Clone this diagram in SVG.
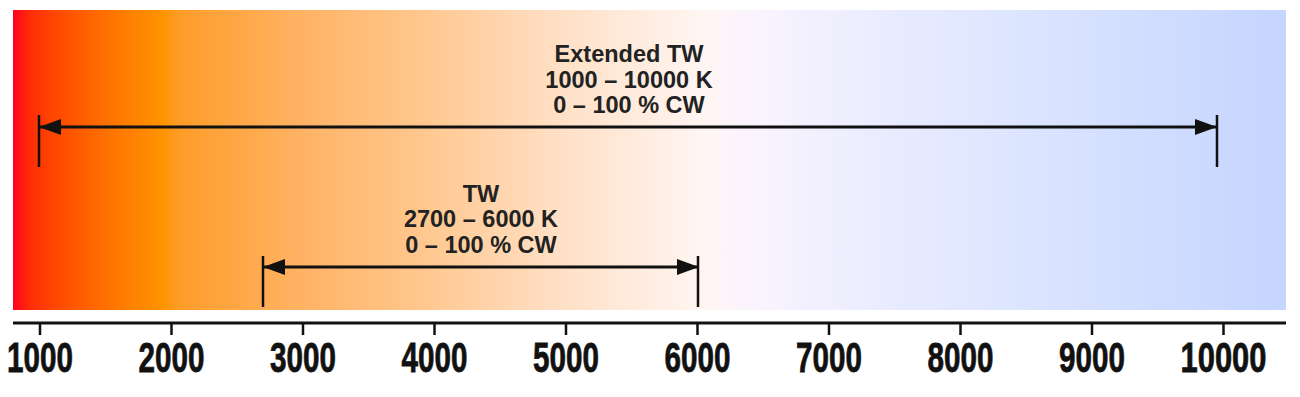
<svg xmlns="http://www.w3.org/2000/svg" width="1300" height="397" viewBox="0 0 1300 397">
  <defs>
    <linearGradient id="cct" x1="13" y1="0" x2="1286" y2="0" gradientUnits="userSpaceOnUse">
      <stop offset="0" stop-color="#ff0024"/>
      <stop offset="0.012" stop-color="#ff2a08"/>
      <stop offset="0.03" stop-color="#ff4400"/>
      <stop offset="0.07" stop-color="#ff6e00"/>
      <stop offset="0.118" stop-color="#ff9400"/>
      <stop offset="0.13" stop-color="#ff9c28"/>
      <stop offset="0.225" stop-color="#ffb264"/>
      <stop offset="0.33" stop-color="#ffc992"/>
      <stop offset="0.43" stop-color="#ffe0c6"/>
      <stop offset="0.54" stop-color="#fff5f1"/>
      <stop offset="0.575" stop-color="#fbf4fe"/>
      <stop offset="0.70" stop-color="#e7ebff"/>
      <stop offset="0.82" stop-color="#d9e3ff"/>
      <stop offset="1" stop-color="#c5d5ff"/>
    </linearGradient>
    <marker id="ah" markerWidth="22" markerHeight="16" refX="21" refY="8" orient="auto-start-reverse" markerUnits="userSpaceOnUse">
      <path d="M0,0 L22,8 L0,16 Z" fill="#111"/>
    </marker>
  </defs>
  <style>
    .lbl { font-family: "Liberation Sans", Arial, sans-serif; font-weight: bold; font-size: 23.5px; fill: #222; text-anchor: middle; }
    .ax { font-family: "Liberation Sans", Arial, sans-serif; font-weight: bold; font-size: 43px; fill: #111; text-anchor: middle; stroke: #111; stroke-width: 0.8; }
    .rng { stroke: #111; stroke-width: 3; fill: none; }
    .tick { stroke: #111; stroke-width: 2.5; }
  </style>
  <rect id="spectrum" x="13" y="10" width="1273" height="300" fill="url(#cct)"/>

  <g id="connectors">
    <line class="rng" x1="40" y1="127" x2="1216" y2="127" marker-start="url(#ah)" marker-end="url(#ah)"/>
    <line class="tick" x1="39" y1="115" x2="39" y2="167"/>
    <line class="tick" x1="1217" y1="115" x2="1217" y2="167"/>
    <line class="rng" x1="264" y1="267" x2="698" y2="267" marker-start="url(#ah)" marker-end="url(#ah)"/>
    <line class="tick" x1="263" y1="256" x2="263" y2="307"/>
    <line class="tick" x1="698" y1="256" x2="698" y2="307"/>
  </g>

  <g id="extended-tw">
    <text class="lbl" x="629" y="62">Extended TW</text>
    <text class="lbl" x="629" y="88">1000 – 10000 K</text>
    <text class="lbl" x="629" y="113">0 – 100 % CW</text>
  </g>

  <g id="tw">
    <text class="lbl" x="481" y="202">TW</text>
    <text class="lbl" x="481" y="227">2700 – 6000 K</text>
    <text class="lbl" x="481" y="253">0 – 100 % CW</text>
  </g>

  <g id="axis">
    <line x1="13" y1="323" x2="1286" y2="323" stroke="#111" stroke-width="3"/>
    <g class="tick">
      <line x1="40" y1="323" x2="40" y2="335"/>
      <line x1="171.5" y1="323" x2="171.5" y2="335"/>
      <line x1="303" y1="323" x2="303" y2="335"/>
      <line x1="434.5" y1="323" x2="434.5" y2="335"/>
      <line x1="566" y1="323" x2="566" y2="335"/>
      <line x1="697.5" y1="323" x2="697.5" y2="335"/>
      <line x1="829" y1="323" x2="829" y2="335"/>
      <line x1="960.5" y1="323" x2="960.5" y2="335"/>
      <line x1="1092" y1="323" x2="1092" y2="335"/>
      <line x1="1223.5" y1="323" x2="1223.5" y2="335"/>
    </g>
    <text class="ax" x="40" y="372" textLength="66" lengthAdjust="spacingAndGlyphs">1000</text>
    <text class="ax" x="171.5" y="372" textLength="66" lengthAdjust="spacingAndGlyphs">2000</text>
    <text class="ax" x="303" y="372" textLength="66" lengthAdjust="spacingAndGlyphs">3000</text>
    <text class="ax" x="434.5" y="372" textLength="66" lengthAdjust="spacingAndGlyphs">4000</text>
    <text class="ax" x="566" y="372" textLength="66" lengthAdjust="spacingAndGlyphs">5000</text>
    <text class="ax" x="697.5" y="372" textLength="66" lengthAdjust="spacingAndGlyphs">6000</text>
    <text class="ax" x="829" y="372" textLength="66" lengthAdjust="spacingAndGlyphs">7000</text>
    <text class="ax" x="960.5" y="372" textLength="66" lengthAdjust="spacingAndGlyphs">8000</text>
    <text class="ax" x="1092" y="372" textLength="66" lengthAdjust="spacingAndGlyphs">9000</text>
    <text class="ax" x="1223.5" y="372" textLength="86" lengthAdjust="spacingAndGlyphs">10000</text>
  </g>
</svg>
